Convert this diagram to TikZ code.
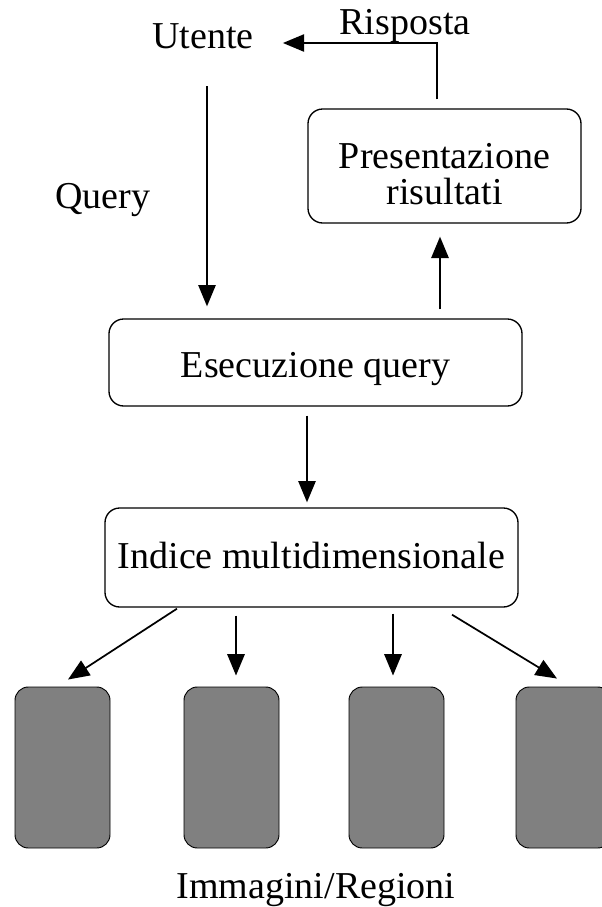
\documentclass[tikz,border=0pt]{standalone}
\usepackage{fontspec}
\setmainfont{Liberation Serif}
\usetikzlibrary{arrows.meta,calc}
\begin{document}
\begin{tikzpicture}[x=0.75pt,y=-0.75pt,
  every node/.style={font=\fontsize{28.5}{27}\selectfont,inner sep=0pt},
  box/.style={draw,line width=1pt,rounded corners=11pt,align=center,text depth=0pt},
  img/.style={draw,line width=0.7pt,fill=black!50,rounded corners=10pt,
    minimum width=71.25pt,minimum height=120.75pt},
  txt/.style={anchor=base},
  arr/.style={line width=1.3pt,-{Triangle[length=16pt,width=13pt]}}]
\useasboundingbox (0,0) rectangle (601,907);

% processing blocks
\node[box,minimum width=204.75pt,minimum height=85.5pt,text height=57pt]
  (pres) at (444.5,166) {Presentazione\\risultati};
\node[box,minimum width=309.75pt,minimum height=65.25pt,text height=21.75pt]
  (esec) at (315.5,362.5) {Esecuzione query};
\node[box,minimum width=309.75pt,minimum height=74.25pt,text height=15.75pt]
  (indice) at (311.5,557.5) {Indice multidimensionale};

% plain labels
\node[txt] (utente)   at (203,48)  {Utente};
\node[txt] (risposta) at (405,34)  {Risposta};
\node[txt] (query)    at (103,208) {Query};
\node[txt] (immagini) at (316,898) {Immagini/Regioni};

% image / region blocks
\node[img] (img1) at (62.5,767.5)  {};
\node[img] (img2) at (231.5,767.5) {};
\node[img] (img3) at (396.5,767.5) {};
\node[img] (img4) at (563.5,767.5) {};

% query flow
\draw[arr] ($(esec.north)+(-108.5,-232)$) -- ($(esec.north)+(-108.5,-12)$);
\draw[arr] ($(esec.south)+(-8.5,9)$) -- ($(indice.north)+(-4.5,-5)$);
\draw[arr] ($(esec.north)+(124.5,-9)$) -- ($(pres.south)+(-4.5,13)$);
\draw[arr] ($(pres.north)+(-7.5,-9)$) |- ($(utente.base east)+(29,-5)$);

% index to images
\draw[arr] ($(indice.south)+(-134.5,1)$) -- ($(img1.north)+(5.5,-7)$);
\draw[arr] ($(indice.south)+(-75.5,8)$)  -- ($(img2.north)+(4.5,-11)$);
\draw[arr] ($(indice.south)+(81.5,6)$)   -- ($(img3.north)+(-3.5,-11)$);
\draw[arr] ($(indice.south)+(140.5,7)$)  -- ($(img4.north)+(-6.5,-8)$);
\end{tikzpicture}
\end{document}
